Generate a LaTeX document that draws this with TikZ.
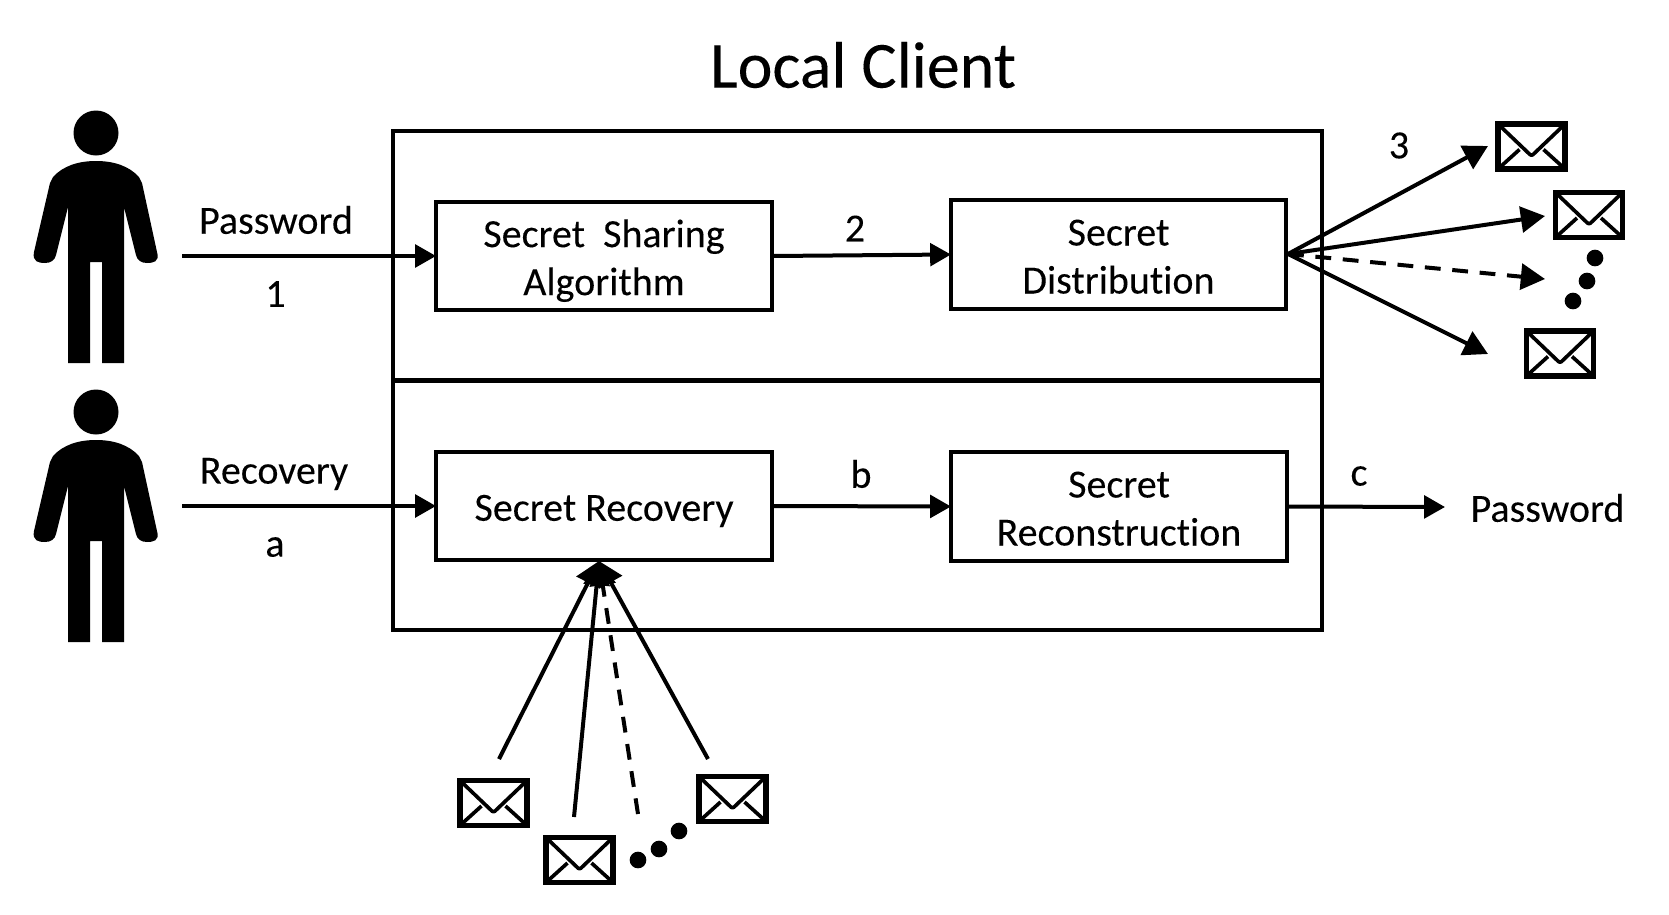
\documentclass[tikz,border=0pt]{standalone}
\usepackage{fontspec}
\setmainfont[Ligatures=NoCommon,FakeBold=0.12]{Carlito}
\usetikzlibrary{arrows.meta}
\newcommand{\pushed}[2]{\raisebox{0pt}[\dimexpr\height+#1\relax]{#2}}
\tikzset{
  boxnode/.style={draw,line width=2.4pt,outer sep=0pt,inner sep=0pt,align=center,font=\fontsize{24}{28.8}\selectfont},
  outerbox/.style={draw,line width=2.5pt,outer sep=0pt,inner sep=0pt,minimum width=557.4pt,minimum height=149.4pt},
  label/.style={inner sep=0pt,font=\fontsize{24}{28.8}\selectfont},
  link/.style={line width=2.4pt,-{Triangle[length=12.5pt,width=13.5pt]}},
  fanlink/.style={line width=2.4pt,-{Triangle[length=14.5pt,width=15.5pt]}},
  dashlink/.style={fanlink,dash pattern=on 9.5pt off 7pt},
  dotmark/.style={circle,fill=black,inner sep=0pt,minimum size=10pt},
  flap/.style={line width=2.2pt,line join=round},
  envelope/.style={draw,line width=3.3pt,outer sep=0pt,inner sep=0pt,minimum width=40pt,minimum height=27pt,
    path picture={
      \draw[flap,shift={(path picture bounding box.center)},rounded corners=1.2pt] (-33,-22) -- (0,9.5) -- (33,-22);
      \draw[flap,shift={(path picture bounding box.center)}] (-33,22) -- (-12,3) (33,22) -- (12,3);
    }},
  person/.pic={
    \fill[black] (96,133) circle (22.5);
    \fill[black] (96,161) .. controls (78,161) and (63,166) .. (53,177) -- (50,183) -- (34,252)
      .. controls (32,262) and (39,263) .. (45,263) .. controls (51,263) and (55,260) .. (56,255)
      -- (68,207) -- (68,363) -- (90,363) -- (90,262) -- (102,262) -- (102,363) -- (124,363) -- (124,207) -- (136,255)
      .. controls (137,260) and (141,263) .. (147,263) .. controls (153,263) and (160,262) .. (157,252)
      -- (142,183) -- (139,177) .. controls (129,166) and (114,161) .. (96,161) -- cycle;
  }
}
\begin{document}
\begin{tikzpicture}[x=0.6pt,y=-0.6pt]
\useasboundingbox[fill=white] (0,0) rectangle (1669,914);
\node[label,font=\fontsize{39.6}{47}\selectfont] (title) at (863,65) {Local Client};
\pic at (0,0) {person};
\pic at (0,279) {person};
\node[outerbox] (upper) at (857.5,255.5) {};
\node[outerbox] (lower) at (857.5,505.5) {};
\node[boxnode,minimum width=201.6pt,minimum height=65pt] (ssa) at (604,256) {\pushed{5.6pt}{Secret\ \ Sharing}\\Algorithm};
\node[boxnode,minimum width=201pt,minimum height=65.4pt] (sd) at (1118.5,254.5) {\pushed{2.6pt}{Secret}\\Distribution};
\node[boxnode,minimum width=201.6pt,minimum height=65pt] (sr) at (604,506) {\pushed{6pt}{Secret Recovery}};
\node[boxnode,minimum width=201.6pt,minimum height=65.4pt] (srec) at (1119,506.5) {\pushed{2.6pt}{Secret}\\Reconstruction};
\coordinate (p1) at (182,256);
\coordinate (p2) at (182,506);
\coordinate (pwout) at (1445,507);
\draw[link] (p1) -- (ssa.west);
\draw[link] (p2) -- (sr.west);
\draw[link] (ssa.east) -- (sd.west);
\draw[link] (sr.east) -- (srec.west);
\draw[link] (srec.east) -- (pwout);
\node[label] (lpw) at (276,220) {Password};
\node[label] (l1) at (275.5,294) {1};
\node[label] (lrec) at (274,474) {Recovery};
\node[label] (la) at (275,547) {a};
\node[label] (l2) at (855,228.5) {2};
\node[label] (lb) at (861,474) {b};
\node[label] (lc) at (1359,476) {c};
\node[label] (l3) at (1399,145.5) {3};
\node[label] (pwtxt) at (1547.5,508) {Password};
\node[envelope] (e1) at (1531.5,146.5) {};
\node[envelope] (e2) at (1589,215) {};
\node[envelope] (e3) at (1560,353.5) {};
\node[envelope] (e4) at (493.5,803) {};
\node[envelope] (e5) at (579.5,860) {};
\node[envelope] (e6) at (732.5,799) {};
\coordinate (t1) at (1488,146);
\coordinate (t2) at (1545,216);
\coordinate (t3) at (1545,279);
\coordinate (t4) at (1488,354);
\coordinate (src) at (1288,254);
\draw[fanlink] (src) -- (t1);
\draw[fanlink] (src) -- (t2);
\draw[dashlink] (src) -- (t3);
\draw[fanlink] (src) -- (t4);
\node[dotmark] (d1) at (1595,258) {};
\node[dotmark] (d2) at (1587,281) {};
\node[dotmark] (d3) at (1573,301) {};
\coordinate (apex) at (599,561);
\coordinate (b1) at (499,759);
\coordinate (b2) at (574,817);
\coordinate (b3) at (638,814);
\coordinate (b4) at (708,759);
\draw[fanlink] (b1) -- (apex);
\draw[fanlink] (b2) -- (apex);
\draw[dashlink] (b3) -- (apex);
\draw[fanlink] (b4) -- (apex);
\node[dotmark] (d4) at (638,860) {};
\node[dotmark] (d5) at (659,849) {};
\node[dotmark] (d6) at (679,831) {};
\end{tikzpicture}
\end{document}
